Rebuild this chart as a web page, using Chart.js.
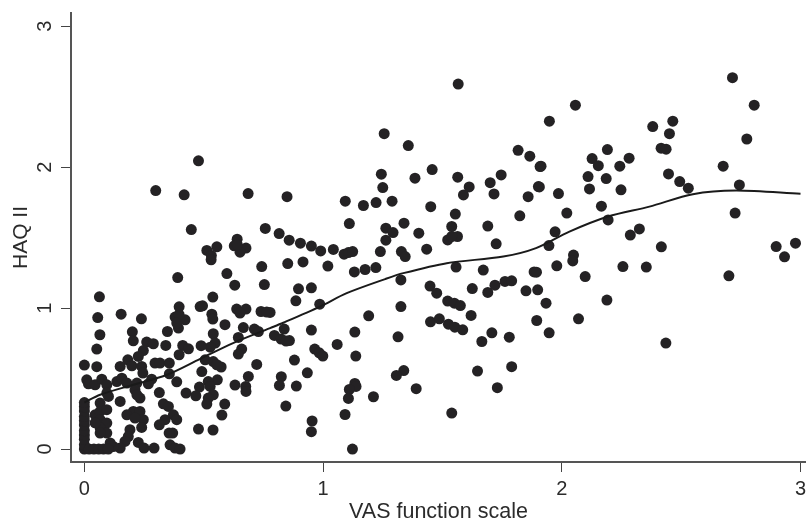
<!DOCTYPE html>
<html lang="en">
<head>
<meta charset="UTF-8">
<title>HAQ II vs VAS function scale</title>
<script src="https://cdn.jsdelivr.net/npm/chart.js"></script>
<style>
  html, body { margin: 0; padding: 0; background: #fff; }
  canvas { display: block; }
</style>
</head>
<body>
<canvas id="chart" width="806" height="519"></canvas>
<script>
const xTicks = [0, 1, 2, 3];
const yTicks = [0, 1, 2, 3];

// patients (upper middle, lower middle, right, left)
const pointX = [
  1.566,1.256,1.357,1.817,1.866,1.909,1.244,1.457,1.385,1.564,1.612,1.588,1.7,1.746,1.716,1.902,1.859,1.25,0.849,1.093,
  1.169,1.222,1.289,1.451,1.554,1.824,1.69,1.11,1.339,1.263,1.293,1.401,1.539,1.563,1.522,1.539,1.263,1.725,0.816,0.858,
  0.905,0.951,0.99,1.043,1.088,1.106,1.124,1.24,1.328,1.344,1.434,0.852,0.916,1.02,1.131,1.176,1.221,1.557,1.671,1.884,
  0.897,0.951,0.886,0.986,0.778,1.326,1.326,1.191,1.448,1.476,1.625,1.69,1.72,1.762,1.79,1.85,1.899,1.522,1.55,1.575,
  1.62,1.895,1.45,1.487,1.525,1.552,1.585,1.665,1.707,1.78,1.647,1.79,1.73,1.539,1.314,1.338,1.307,1.39,1.133,1.137,
  1.133,1.138,1.11,1.106,1.092,1.211,1.123,1.059,0.951,0.965,0.984,0.999,0.88,0.934,0.825,0.817,0.888,0.844,0.954,0.951,
  0.796,0.824,0.837,0.845,0.859,
  2.715,2.806,2.057,1.948,2.381,2.465,2.451,2.775,2.416,2.437,2.191,2.127,2.153,2.282,2.243,1.913,2.676,2.11,2.186,2.447,
  2.494,2.53,2.744,1.906,2.116,2.248,1.986,2.166,2.021,2.726,2.194,2.325,2.287,1.972,1.946,2.417,2.898,2.979,2.933,2.049,
  2.046,1.979,1.894,2.256,2.354,2.098,2.7,1.934,2.189,2.07,1.947,2.436,
  0.478,0.299,0.418,0.686,0.448,0.758,0.513,0.555,0.532,0.64,0.628,0.677,0.652,0.641,0.531,0.391,0.597,0.63,0.743,0.754,
  0.063,0.538,0.485,0.495,0.397,0.056,0.154,0.239,0.534,0.538,0.638,0.677,0.652,0.74,0.764,0.38,0.422,0.397,0.394,0.387,
  0.348,0.589,0.666,0.712,0.729,0.645,0.54,0.548,0.527,0.489,0.201,0.205,0.065,0.052,0.261,0.289,0.341,0.412,0.436,0.397,
  0.659,0.645,0.247,0.226,0.182,0,0.052,0.15,0.199,0.24,0.245,0.296,0.317,0.356,0.506,0.54,0.573,0.555,0.722,0.492,
  0.687,0.631,0.676,0.677,0.557,0.519,0.527,0.482,0.467,0.426,0.54,0.519,0.513,0.588,0.576,0.478,0.539,0.356,0.387,0.314,
  0.282,0.268,0.01,0.017,0.045,0.073,0.094,0.094,0.136,0.157,0.178,0.22,0.212,0.233,0.22,0.15,0.066,0.101,0.331,0.352,
  0.373,0.387,0.338,0.314,0.37,0.355,0.205,0.233,0.178,0.247,0.212,0.24,0.191,0.184,0.17,0.15,0.121,0.108,0.226,0.25,
  0.292,0.359,0.38,0.401,
  0,0,0,0,0,0,0,0,0,0,0,0.02,0.04,0.06,0.08,0.1,
  0.045,0.066,0.094,0.066,0.094,0.066,0.094,0.066,0.045
];
const pointY = [
  2.59,2.238,2.153,2.12,2.078,2.004,1.95,1.983,1.922,1.929,1.86,1.803,1.89,1.945,1.81,1.862,1.791,1.855,1.791,1.759,
  1.728,1.749,1.759,1.72,1.667,1.655,1.582,1.6,1.603,1.567,1.536,1.532,1.579,1.508,1.484,1.508,1.482,1.456,1.529,1.482,
  1.461,1.44,1.406,1.416,1.383,1.394,1.401,1.401,1.401,1.366,1.418,1.316,1.328,1.298,1.257,1.274,1.288,1.291,1.27,1.257,
  1.137,1.144,1.052,1.028,0.969,1.2,1.011,0.945,1.156,1.106,1.139,1.111,1.163,1.189,1.194,1.123,1.13,1.05,1.035,1.018,
  0.948,0.912,0.903,0.924,0.886,0.865,0.846,0.763,0.825,0.794,0.553,0.584,0.435,0.255,0.796,0.557,0.522,0.428,0.83,0.66,
  0.465,0.444,0.423,0.359,0.245,0.371,0,0.742,0.844,0.709,0.683,0.66,0.631,0.541,0.513,0.451,0.447,0.305,0.199,0.123,
  0.806,0.78,0.851,0.766,0.77,
  2.635,2.44,2.44,2.326,2.288,2.326,2.238,2.2,2.135,2.128,2.125,2.061,2.011,2.064,2.007,2.007,2.007,1.933,1.919,1.952,
  1.898,1.851,1.874,1.86,1.846,1.839,1.813,1.723,1.674,1.674,1.626,1.562,1.518,1.541,1.444,1.435,1.437,1.461,1.364,1.376,
  1.335,1.3,1.255,1.295,1.291,1.224,1.229,1.035,1.057,0.924,0.825,0.752,
  2.045,1.834,1.804,1.813,1.557,1.565,1.409,1.435,1.373,1.489,1.442,1.426,1.397,1.449,1.343,1.217,1.245,1.163,1.295,1.167,
  1.08,1.078,1.011,1.016,1.009,0.933,0.957,0.924,0.957,0.922,0.993,0.993,0.965,0.976,0.972,0.936,0.917,0.953,0.858,0.894,
  0.834,0.882,0.862,0.851,0.834,0.792,0.818,0.752,0.723,0.733,0.832,0.768,0.811,0.709,0.759,0.747,0.735,0.735,0.711,0.669,
  0.709,0.674,0.699,0.657,0.633,0.596,0.584,0.586,0.591,0.586,0.539,0.61,0.61,0.61,0.633,0.621,0.582,0.598,0.6,0.55,
  0.515,0.454,0.444,0.409,0.491,0.479,0.444,0.44,0.378,0.397,0.385,0.362,0.319,0.319,0.241,0.142,0.135,0.534,0.477,0.401,
  0.496,0.463,0.491,0.463,0.456,0.496,0.456,0.397,0.479,0.503,0.468,0.468,0.42,0.362,0.385,0.338,0.326,0.373,0.321,0.302,
  0.243,0.208,0.208,0.172,0.113,0.113,0.267,0.267,0.243,0.208,0.22,0.153,0.137,0.089,0.054,0.007,0.018,0.043,0.047,0.007,
  0.007,0.03,0.007,0,
  0,0.03,0.07,0.1,0.13,0.17,0.2,0.23,0.27,0.3,0.33,0,0,0,0,0,
  0.243,0.267,0.279,0.208,0.184,0.149,0.113,0.113,0.186
];

// smoothed trend line
const curveX = [0,0.066,0.205,0.346,0.485,0.623,0.778,0.833,0.987,1.099,1.26,1.336,1.518,1.755,1.892,2.032,2.194,2.367,2.549,2.73,3];
const curveY = [0.33,0.385,0.456,0.527,0.64,0.752,0.858,0.896,1.011,1.106,1.206,1.248,1.319,1.366,1.426,1.543,1.65,1.72,1.808,1.834,1.811];

const fontFamily = "'Liberation Sans', Arial, sans-serif";
const inkColor = '#2b2b2b';

new Chart(document.getElementById('chart'), {
  data: {
    datasets: [
      {
        type: 'line',
        data: curveX.map((x, i) => ({ x: x, y: curveY[i] })),
        borderColor: '#1a1a1a',
        borderWidth: 2,
        pointRadius: 0,
        tension: 0.3,
        fill: false
      },
      {
        type: 'scatter',
        data: pointX.map((x, i) => ({ x: x, y: pointY[i] })),
        backgroundColor: '#242224',
        borderWidth: 0,
        pointRadius: 5.5
      }
    ]
  },
  options: {
    responsive: false,
    animation: false,
    layout: { autoPadding: false, padding: { top: 13 } },
    plugins: { legend: { display: false }, tooltip: { enabled: false } },
    scales: {
      x: {
        type: 'linear',
        min: -0.056,
        max: 3.023,
        afterBuildTicks: (axis) => { axis.ticks = xTicks.map(v => ({ value: v })); },
        // no room kept for the last label, the axis runs to the page edge
        afterFit: (axis) => { axis.height = 57; axis.paddingLeft = 0; axis.paddingRight = 0; },
        border: { color: '#555', width: 2 },
        grid: { drawOnChartArea: false, tickLength: 10, color: '#444' },
        ticks: { color: inkColor, font: { family: fontFamily, size: 20 }, maxRotation: 0, padding: 5 },
        title: {
          display: true,
          text: 'VAS function scale',
          color: inkColor,
          padding: 0,
          font: { family: fontFamily, size: 21.5, lineHeight: 0.6 }
        }
      },
      y: {
        type: 'linear',
        min: -0.092,
        max: 3.094,
        afterBuildTicks: (axis) => { axis.ticks = yTicks.map(v => ({ value: v })); },
        afterFit: (axis) => { axis.width = 71; axis.paddingTop = 0; axis.paddingBottom = 0; },
        border: { color: '#555', width: 2 },
        grid: { drawOnChartArea: false, tickLength: 10, color: '#444' },
        ticks: { color: inkColor, font: { family: fontFamily, size: 20 }, minRotation: 90, maxRotation: 90, crossAlign: 'center', padding: 10 },
        title: {
          display: true,
          text: 'HAQ II',
          color: inkColor,
          padding: { top: 9, bottom: 0 },
          font: { family: fontFamily, size: 21 }
        }
      }
    }
  }
});
</script>
</body>
</html>
